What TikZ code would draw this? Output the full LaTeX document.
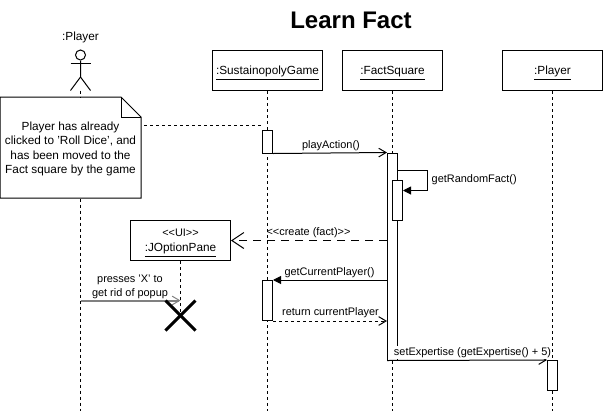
\documentclass[tikz,border=0pt]{standalone}
\usepackage{fontspec}
\setmainfont{Liberation Sans}
\usepackage{xcolor}
\usetikzlibrary{positioning,arrows.meta,calc}
\begin{document}
\begin{tikzpicture}[
  x=0.75pt, y=-0.75pt,
  font=\fontsize{8.85pt}{10.75pt}\selectfont,
  line width=0.75pt,
  obj/.style={draw, fill=white, align=center, minimum width=75pt, minimum height=30pt, inner sep=0pt, text depth=0pt},
  objwide/.style={obj, minimum width=82.5pt},
  bar/.style={draw, fill=white, minimum width=7.5pt, inner sep=0pt},
  msg/.style={inner sep=0.5pt, align=center, font=\fontsize{8.2pt}{10.1pt}\selectfont},
  life/.style={dash pattern=on 2.25pt off 2.25pt},
  call/.style={-{Straight Barb[length=5.5pt,width=6.5pt]}},
  sync/.style={-{Triangle[length=6pt,width=6pt]}},
  back/.style={call, dash pattern=on 2.25pt off 2.25pt},
  made/.style={-{Straight Barb[length=9pt,width=12pt]}, dash pattern=on 6pt off 4.5pt}]
\useasboundingbox (0,0) rectangle (603,411);
\node[font=\fontsize{18pt}{20pt}\selectfont\bfseries] (title) at (351,20) {Learn Fact};

% actor
\node (actor) at (80.5,37) {:Player};
\node[draw, circle, minimum size=7.5pt, inner sep=0pt] (head) at (80.5,55) {};
\coordinate (hip) at (80.5,77);
\coordinate (legl) at (70.5,90.5);
\coordinate (legr) at (90.5,90.5);
\coordinate (arml) at (70.5,63.5);
\coordinate (armr) at (90.5,63.5);
\draw (head) -- (hip) -- (legl);
\draw (hip) -- (legr);
\draw (arml) -- (armr);

% objects
\node[objwide] (game) at (267.5,70.5) {\underline{:SustainopolyGame}};
\node[obj] (fact) at (392.5,70.5) {\underline{:FactSquare}};
\node[obj] (player) at (552.5,70.5) {\underline{:Player}};
\node[obj] (pane) at (180.5,240.5) {};
\node[font=\fontsize{8.2pt}{10pt}\selectfont] (stereo) at (180.5,233) {<{}<UI>{}>};
\node (panename) at (180.5,250) {\underline{:JOptionPane}};

% lifelines
\coordinate (actorend) at (80.5,411);
\coordinate (gameend) at (267.5,411);
\coordinate (factend) at (392.5,411);
\coordinate (playerend) at (552.5,411);
\coordinate (kill) at (180.5,315.5);
\draw[life] (legl -| head) -- (actorend);
\draw[life] (game) -- (gameend);
\draw[life] (fact) -- (factend);
\draw[life] (player) -- (playerend);
\draw[life] (pane) -- (kill);

% activation bars
\node[bar, minimum height=17.25pt] (gamebar) at (267.5,141.5) {};
\node[bar, minimum height=155.25pt] (factbar) at (392.5,256.5) {};
\node[bar, minimum height=30pt] (randbar) at (397.5,200) {};
\node[bar, minimum height=30pt] (curbar) at (267.5,300.5) {};
\node[bar, minimum height=22.5pt] (plbar) at (552.5,375.5) {};

% note
\node[minimum width=105pt, minimum height=75pt, inner sep=0pt, fill=white] (note) at (70.5,147.5) {};
\node[align=center, inner sep=0pt] (notetext) at (70.5,149) {Player has already\\clicked to 'Roll Dice', and\\has been moved to the\\Fact square by the game};
\coordinate (fold) at ($(note.north east)+(-20,0)$);
\coordinate (foldend) at ($(note.north east)+(0,20)$);
\coordinate (foldin) at ($(note.north east)+(-20,20)$);
\coordinate (noteend) at (262,125.5);
\draw (note.north west) -- (fold) -- (foldend) -- (note.south east) -- (note.south west) -- cycle;
\draw (fold) -- (foldin) -- (foldend);
\draw[life] ([xshift=2.25pt]note.east |- noteend) -- (noteend);

% messages
\draw[call] (gamebar.south east) -- (factbar.north west);
\node[msg] (m1) at (331,146) {playAction()};
\coordinate (selfa) at (427.5,170.5);
\coordinate (selfb) at (427.5,190.5);
\draw[sync] (factbar.east |- selfa) -- (selfa) -- (selfb) -- (randbar.east |- selfb);
\node[msg, anchor=west] (m2) at (430.5,180) {getRandomFact()};
\draw[made] (factbar.west |- pane) -- (pane);
\node[msg] (m3) at (308.5,233) {<{}<create (fact)>{}>};
\draw[sync] (factbar.west |- curbar.north) -- (curbar.north east);
\node[msg] (m4) at (329.5,273) {getCurrentPlayer()};
\draw[back] (curbar.south east) -- (factbar.west |- curbar.south);
\node[msg] (m5) at (330.5,313) {return currentPlayer};
\draw[call] (factbar.south west) -- (plbar.north west);
\node[msg, fill=white, inner ysep=1pt] (m6) at (472.5,352.5) {setExpertise (getExpertise() + 5)};
\coordinate (actorpt) at (80.5,300.5);
\draw[-{Straight Barb[length=5.5pt,width=6.5pt,line width=0.75pt]}, draw=black!50, line width=1.5pt] (actorpt) -- (actorpt -| kill);
\node[msg] (m7) at (130,287) {presses 'X' to\\get rid of popup};

% destroyed
\coordinate (xa) at (165.5,300.5);
\coordinate (xb) at (195.5,330.5);
\coordinate (xc) at (195.5,300.5);
\coordinate (xd) at (165.5,330.5);
\draw[line width=2.25pt] (xa) -- (xb);
\draw[line width=2.25pt] (xc) -- (xd);
\end{tikzpicture}
\end{document}
